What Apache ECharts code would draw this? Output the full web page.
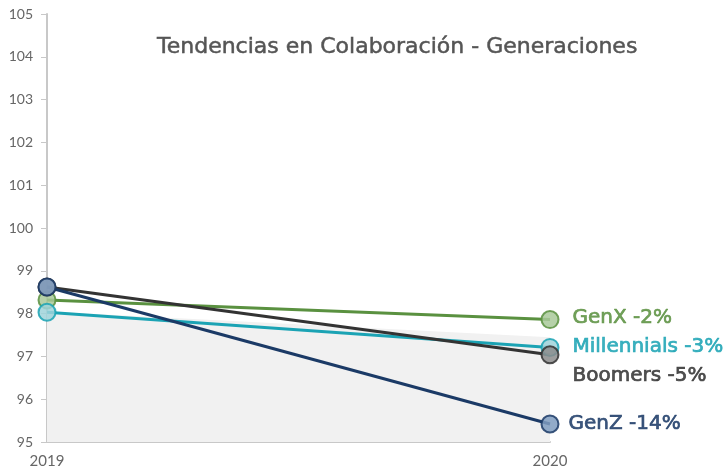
<!DOCTYPE html>
<html>
<head>
<meta charset="utf-8">
<script src="https://cdn.jsdelivr.net/npm/echarts@6/dist/echarts.min.js"></script>
<style>
  html, body { margin: 0; padding: 0; background: #fff; }
  #chart { width: 728px; height: 473px; }
</style>
</head>
<body>
<div id="chart"></div>
<script>
// datos
const years = ['2019', '2020']
const genx = [98.32, 97.86]
const millennials = [98.03, 97.21]
const boomers = [98.62, 97.04]
const genz = [98.62, 95.42]
// banda gris de fondo
const band = [98.05, 97.45]
const seriesNames = ['GenX', 'Millennials', 'Boomers', 'GenZ']
const endLabels = ['GenX -2%', 'Millennials -3%', 'Boomers -5%', 'GenZ -14%']

const chart = echarts.init(document.getElementById('chart'))

function makeLine(name, data, color, fill, label, offset) {
  return {
    name: name,
    type: 'line',
    data: data,
    z: 3,
    symbol: 'circle',
    symbolSize: 17,
    lineStyle: { color: color, width: 3 },
    itemStyle: { color: fill, borderColor: color, borderWidth: 2, opacity: 0.85 },
    label: {
      show: true,
      position: 'right',
      distance: 13,
      offset: offset,
      fontFamily: 'DejaVu Sans',
      fontSize: 20,
      color: color,
      textBorderColor: color,
      textBorderWidth: 0.7,
      formatter: function (p) {
        return p.dataIndex === data.length - 1 ? label : ''
      }
    },
    emphasis: { disabled: true }
  }
}

const option = {
  animation: false,
  title: {
    text: 'Tendencias en Colaboración - Generaciones',
    left: 152,
    top: 31,
    textStyle: {
      fontFamily: 'DejaVu Sans', fontWeight: 'normal', fontSize: 22, color: '#555555',
      textBorderColor: '#555555', textBorderWidth: 0.5
    }
  },
  grid: { left: 47, right: 178, top: 14, bottom: 31 },
  xAxis: {
    type: 'category',
    data: years,
    boundaryGap: false,
    axisLine: { lineStyle: { color: '#c8c8c8', width: 2 } },
    axisTick: { show: false },
    axisLabel: { color: '#666', fontFamily: 'Lato', fontSize: 15, margin: 12 }
  },
  yAxis: {
    type: 'value',
    min: 95,
    max: 105,
    interval: 1,
    splitLine: { show: false },
    axisLine: { show: true, lineStyle: { color: '#c8c8c8', width: 2 } },
    axisTick: { show: true, length: 6, lineStyle: { color: '#c8c8c8' } },
    axisLabel: { color: '#666', fontFamily: 'Lato', fontSize: 14, margin: 14 }
  },
  series: [
    {
      name: 'banda',
      type: 'line',
      data: band,
      z: 1,
      symbol: 'none',
      lineStyle: { width: 0 },
      areaStyle: { color: '#f1f1f1', opacity: 1, origin: 'start' },
      silent: true
    },
    makeLine(seriesNames[0], genx, '#5a9140', '#a9c99a', endLabels[0], [0, -2]),
    makeLine(seriesNames[1], millennials, '#1ba3b4', '#9fd3da', endLabels[1], [0, -1]),
    makeLine(seriesNames[2], boomers, '#333333', '#8c8c8c', endLabels[2], [0, 21]),
    makeLine(seriesNames[3], genz, '#1b3a66', '#7f9cc0', endLabels[3], [-4, 0])
  ]
}

chart.setOption(option)
</script>
</body>
</html>
